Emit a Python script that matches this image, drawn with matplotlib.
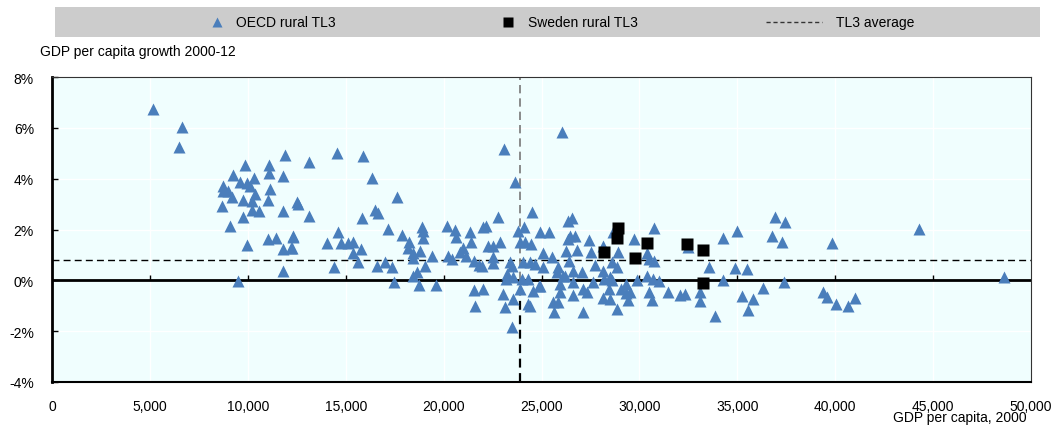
import matplotlib.pyplot as plt
from matplotlib.lines import Line2D

plt.rcParams['font.family'] = ['Liberation Sans', 'DejaVu Sans']
plt.rcParams['font.size'] = 10

# OECD rural TL3 regions: GDP per capita 2000 (USD) and growth 2000-12 (%)
oecd_gdp = [
    5160, 6640, 6490, 11900, 9860, 11080, 11080, 9240, 11800, 10320,
    9600, 9960, 8730, 10110, 11130, 8730, 8990, 10370, 9190, 9750,
    11030, 10210, 12510, 8680, 10210, 10570, 11800, 9750, 9090, 11030,
    11440, 12310, 9960, 11800, 12210, 11800, 9500,
    13120, 14550, 15880, 16340, 17620, 12560, 13120, 16500, 16650, 15830,
    17160, 12310, 14610, 17870, 14040, 14760, 15120, 15370, 18230, 18900,
    18950, 18950, 12260, 15780, 15370, 18180, 18790, 18440, 15630, 14400,
    16600, 17010, 17360, 19050, 18440, 18640, 17470, 18740, 18440, 19410,
    19610,
    20170, 20220, 20430, 20580, 20630, 21350, 21400, 20840, 20990, 21140,
    21550, 21810, 21960, 22010, 22160, 22780, 22270, 22520, 22880, 22520,
    22520, 21550, 22010, 21600, 23030, 23140, 23650, 23080, 23490, 23540,
    23190, 23490, 23800, 24110, 23900, 24160, 24510, 24920, 25380, 25080,
    25540, 24460, 23390, 24050, 24410, 24670, 23240, 23540, 24000, 24310,
    23900, 24570, 24870, 24310, 25590, 25840, 25640, 25840, 26050, 25080,
    26350, 26350, 25940, 24410,
    26560, 26450, 26710, 27420, 26250, 26810, 27530, 26400, 27730, 28140,
    28650, 28910, 29720, 30740, 30390, 30490, 30740, 28600, 28850, 28140,
    26610, 27070, 26200, 26610, 27630, 28500, 28190, 29880, 29310, 30390,
    30690, 31000, 27120, 27320, 28450, 29060, 29310, 30490, 26610, 28140,
    28500, 29420, 30640, 31460, 32070, 32330, 33090, 33090, 27120, 28850,
    33860, 33550, 34270, 34270, 34980, 34880, 35490, 35240, 35800, 35550,
    36310, 36920, 37430, 36770, 37280, 37380, 39830, 44280, 39370, 39580,
    40040, 40650, 41010, 48620, 25940, 29520, 24920, 28600, 25790, 26100,
    32480,
]
oecd_growth = [
    6.75, 6.04, 5.25, 4.94, 4.54, 4.54, 4.23, 4.15, 4.11, 4.03,
    3.87, 3.84, 3.72, 3.72, 3.60, 3.52, 3.52, 3.40, 3.28, 3.17,
    3.17, 3.13, 3.09, 2.93, 2.77, 2.73, 2.73, 2.50, 2.14, 1.63,
    1.67, 1.75, 1.40, 1.24, 1.28, 0.37, -0.02,
    4.66, 5.02, 4.90, 4.03, 3.28, 3.01, 2.54, 2.77, 2.66, 2.46,
    2.03, 1.71, 1.91, 1.79, 1.48, 1.48, 1.48, 1.51, 1.51, 2.10,
    1.95, 1.67, 1.28, 1.24, 1.08, 1.28, 1.16, 0.89, 0.73, 0.53,
    0.57, 0.73, 0.53, 0.57, 0.18, 0.33, -0.06, -0.18, 1.08, 0.96,
    -0.18,
    2.14, 0.96, 0.85, 1.99, 1.71, 1.91, 1.51, 1.12, 1.28, 0.96,
    0.77, 0.61, 0.57, 2.10, 2.14, 2.50, 1.36, 1.36, 1.51, 0.92,
    0.69, -0.37, -0.33, -1.00, -0.53, -1.04, 3.87, 5.17, -1.83, -0.73,
    0.06, 0.57, 1.95, 2.10, 1.51, 1.51, 2.69, 1.91, 1.91, 1.08,
    0.92, 1.44, 0.73, 0.73, 0.73, 0.65, 0.26, 0.14, 0.06, 0.06,
    -0.33, -0.41, -0.22, -0.92, -0.85, -0.85, -1.24, 0.53, 5.84, 0.53,
    2.34, 1.63, -0.14, -1.00,
    2.46, 1.75, 1.75, 1.59, 1.16, 1.20, 1.12, 0.77, 0.61, 1.36,
    1.91, 1.12, 1.63, 2.07, 1.08, 0.85, 0.77, 0.73, 0.53, 0.37,
    0.37, 0.33, 0.18, -0.06, -0.06, 0.14, 0.06, 0.02, -0.14, 0.18,
    0.06, -0.02, -0.33, -0.45, -0.33, -0.33, -0.49, -0.45, -0.57, -0.69,
    -0.73, -0.77, -0.77, -0.45, -0.57, -0.53, -0.45, -0.81, -1.24, -1.12,
    -1.40, 0.53, 0.02, 1.67, 1.95, 0.49, 0.45, -0.61, -0.73, -1.16,
    -0.30, 2.50, 2.30, 1.75, 1.51, -0.06, 1.48, 2.03, -0.45, -0.65,
    -0.92, -1.00, -0.69, 0.14, -0.45, -0.45, -0.22, 0.02, 0.33, 0.18,
    1.32,
]

# Swedish rural TL3 regions
sweden_gdp = [28190, 28910, 28850, 29770, 30390, 32430, 33250, 33250]
sweden_growth = [1.12, 2.07, 1.67, 0.89, 1.48, 1.44, 1.20, -0.10]

# TL3 averages
avg_gdp = 23900
avg_growth = 0.79

x_ticks = [0, 5000, 10000, 15000, 20000, 25000, 30000, 35000, 40000, 45000, 50000]
x_labels = ['0', '5,000', '10,000', '15,000', '20,000', '25,000',
            '30,000', '35,000', '40,000', '45,000', '50,000']
y_ticks = [-4, -2, 0, 2, 4, 6, 8]
y_labels = ['-4%', '-2%', '0%', '2%', '4%', '6%', '8%']

blue = '#4a7ebb'

fig = plt.figure(figsize=(10.55, 4.27), dpi=100)
ax = fig.add_axes([52 / 1055, 1 - 383 / 427, 979 / 1055, 305 / 427])
ax.set_facecolor('#f0fefe')

ax.set_xlim(0, 50000)
ax.set_ylim(-4, 8)
ax.set_xticks(x_ticks)
ax.set_xticklabels(x_labels)
ax.set_yticks(y_ticks)
ax.set_yticklabels(y_labels)
ax.grid(True, color='white', lw=1)
ax.set_axisbelow(True)
ax.tick_params(axis='x', length=0, pad=12)
ax.tick_params(axis='y', direction='in', length=4, width=1, pad=13)

for side in ['top', 'right']:
    ax.spines[side].set_color('#333333')
    ax.spines[side].set_linewidth(0.8)
ax.spines['left'].set_linewidth(2)
ax.spines['bottom'].set_linewidth(1.5)

# zero line with its small ticks
ax.axhline(0, color='black', lw=2, zorder=2)
ax.vlines(x_ticks[1:-1], 1 / 3, 1 / 3 + 0.018, transform=ax.get_xaxis_transform(),
          color='black', lw=1, zorder=2)

# averages
ax.axhline(avg_growth, color='black', lw=1, ls=(0, (5, 3)), zorder=2)
ax.plot([avg_gdp, avg_gdp], [0, 8], color='#777777', lw=1.2, ls=(0, (5, 3)), zorder=2)
ax.plot([avg_gdp, avg_gdp], [-4, 0], color='black', lw=1.6, ls=(0, (4, 2.5)), zorder=2)

ax.plot(oecd_gdp, oecd_growth, '^', color=blue, markersize=9, mec='none', zorder=3)
ax.plot(sweden_gdp, sweden_growth, 's', color='black', markersize=8, mec='none', zorder=4)

fig.text(40 / 1055, 1 - 52 / 427, 'GDP per capita growth 2000-12', ha='left', va='center')
fig.text(1027 / 1055, 1 - 418 / 427, 'GDP per capita, 2000', ha='right', va='center')

# legend band
leg = fig.add_axes([55 / 1055, 1 - 38 / 427, 985 / 1055, 30 / 427])
leg.set_facecolor('#cccccc')
leg.set_xlim(55, 1040)
leg.set_ylim(0, 1)
leg.set_xticks([])
leg.set_yticks([])
for s in leg.spines.values():
    s.set_visible(False)
leg.add_line(Line2D([217], [0.5], marker='^', color=blue, markersize=7, mec='none', ls='none'))
leg.text(236, 0.5, 'OECD rural TL3', va='center', ha='left')
leg.add_line(Line2D([508], [0.5], marker='s', color='black', markersize=7, mec='none', ls='none'))
leg.text(528, 0.5, 'Sweden rural TL3', va='center', ha='left')
leg.add_line(Line2D([766, 822], [0.5, 0.5], color='#333333', lw=1, ls=(0, (3, 2))))
leg.text(836, 0.5, 'TL3 average', va='center', ha='left')

fig.savefig('out.png', dpi=100)
